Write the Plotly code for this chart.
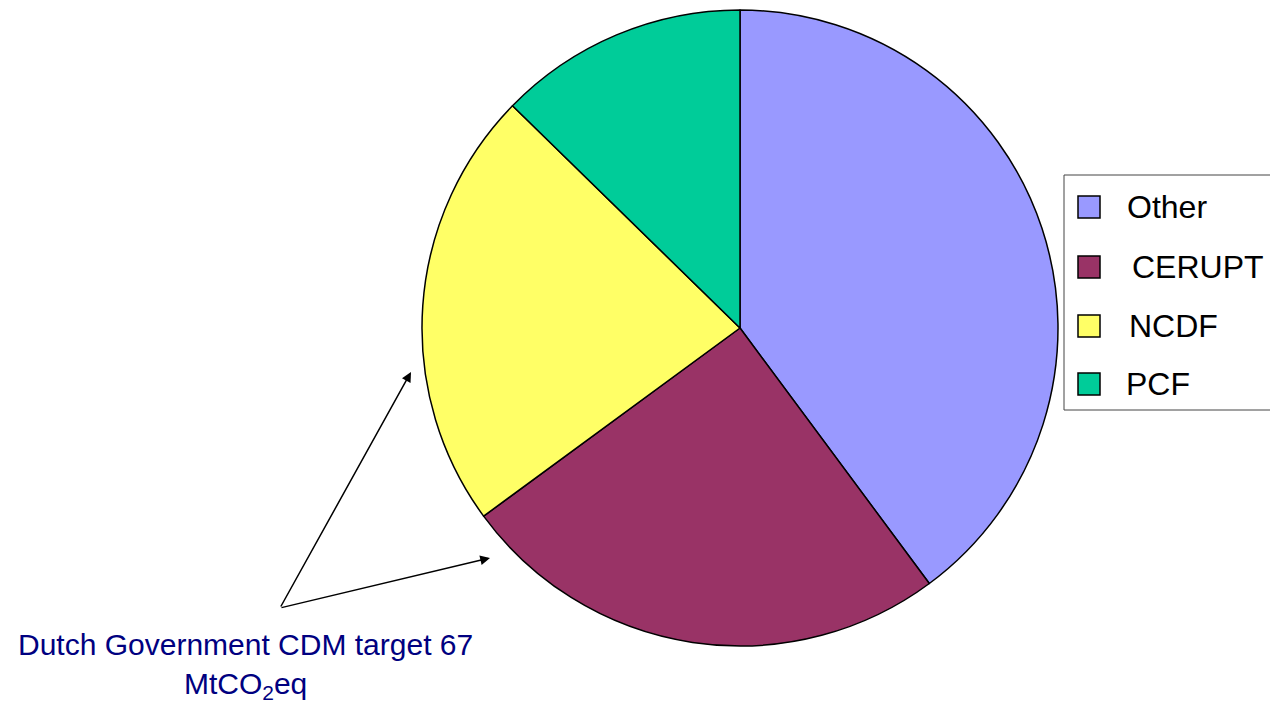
import plotly.graph_objects as go

# Data
labels = ["Other", "CERUPT", "NCDF", "PCF"]
values = [26.7, 16.8, 15.0, 8.5]
colors = ["#9999FF", "#993366", "#FFFF66", "#00CC99"]

W, H = 1270, 705
def px(x): return x / W
def py(y): return 1 - y / H

cx, cy, r = 740, 328, 318

fig = go.Figure(go.Pie(
    labels=labels, values=values, sort=False, direction="clockwise", rotation=0,
    marker=dict(colors=colors, line=dict(color="black", width=1.5)),
    textinfo="none", hoverinfo="label+value", showlegend=False,
    domain=dict(x=[px(cx - r), px(cx + r)], y=[py(cy + r), py(cy - r)]),
))

shapes = []
annotations = []
# legend box
shapes.append(dict(type="rect", xref="paper", yref="paper",
                   x0=px(1064), x1=px(1280), y0=py(410), y1=py(175),
                   line=dict(color="#444444", width=1), fillcolor="white"))
row_y = [207, 267, 326, 384]
text_x = [1125, 1130, 1127, 1124]
for lab, col, yy, tx in zip(labels, colors, row_y, text_x):
    shapes.append(dict(type="rect", xref="paper", yref="paper",
                       x0=px(1078), x1=px(1100), y0=py(yy + 11), y1=py(yy - 11),
                       line=dict(color="black", width=1.5), fillcolor=col))
    annotations.append(dict(text=lab, xref="paper", yref="paper", x=px(tx), y=py(yy),
                            xanchor="left", yanchor="middle", showarrow=False,
                            font=dict(family="Liberation Sans, Arial", size=32, color="black")))

# arrows
for tip, tail in [((411, 372), (280, 608)), ((490, 558), (280, 608))]:
    annotations.append(dict(text="", xref="paper", yref="paper", x=px(tip[0]), y=py(tip[1]),
                            ax=tail[0] - tip[0], ay=tail[1] - tip[1],
                            showarrow=True, arrowhead=2, arrowsize=1.3, arrowwidth=1.5,
                            arrowcolor="black", standoff=0))

annotations.append(dict(text="Dutch Government CDM target 67<br>MtCO<sub>2</sub>eq",
                        xref="paper", yref="paper", x=px(245), y=py(666),
                        xanchor="center", yanchor="middle", showarrow=False, align="center",
                        font=dict(family="Liberation Sans, Arial", size=30, color="#000080")))

fig.update_layout(width=W, height=H, margin=dict(l=0, r=0, t=0, b=0),
                  paper_bgcolor="white", plot_bgcolor="white",
                  shapes=shapes, annotations=annotations)
fig.write_html("out.html")
